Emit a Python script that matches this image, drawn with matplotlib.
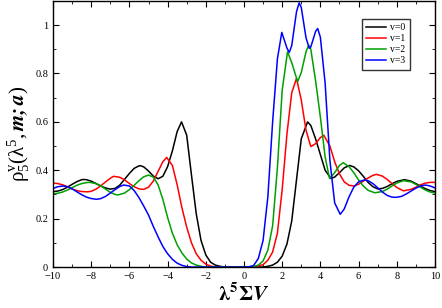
import matplotlib
matplotlib.use("Agg")
import matplotlib.pyplot as plt
from matplotlib.ticker import MultipleLocator

plt.rcParams["font.family"] = ["Liberation Serif", "DejaVu Serif"]
plt.rcParams["mathtext.fontset"] = "stix"

# -------------------------
# data
# -------------------------
x_v0 = [-10, -9.75, -9.5, -9.25, -9.0, -8.75, -8.5, -8.4, -8.25, -8.0, -7.75, -7.5,
        -7.25, -7.0, -6.75, -6.5, -6.25, -6.0, -5.75, -5.5, -5.43, -5.25, -5.0, -4.75,
        -4.5, -4.25, -4.0, -3.75, -3.5, -3.27, -3.0, -2.75, -2.5, -2.25, -2.0, -1.75,
        -1.5, -1.25, -1.0,
        1.0, 1.25, 1.5, 1.75, 2.0, 2.25, 2.5, 2.75, 3.0, 3.33, 3.5, 3.75, 4.0, 4.25,
        4.56, 4.75, 5.0, 5.25, 5.53, 5.75, 6.0, 6.25, 6.5, 6.75, 7.0, 7.25, 7.5, 7.75,
        8.0, 8.4, 8.75, 9.0, 9.25, 9.5, 9.75, 10]
rho_v0 = [0.312, 0.314, 0.320, 0.330, 0.342, 0.353, 0.361, 0.362, 0.361, 0.355, 0.345, 0.335,
          0.327, 0.322, 0.325, 0.339, 0.363, 0.387, 0.408, 0.418, 0.419, 0.414, 0.397, 0.376,
          0.365, 0.375, 0.415, 0.480, 0.560, 0.600, 0.545, 0.380, 0.220, 0.110, 0.050, 0.020,
          0.008, 0.003, 0.0,
          0.0, 0.003, 0.008, 0.020, 0.045, 0.095, 0.190, 0.360, 0.530, 0.600, 0.585, 0.530, 0.465, 0.400,
          0.366, 0.372, 0.390, 0.410, 0.420, 0.414, 0.398, 0.375, 0.350, 0.332, 0.323, 0.325, 0.333, 0.344,
          0.354, 0.361, 0.355, 0.345, 0.334, 0.324, 0.316, 0.312]

x_v1 = [-10, -9.75, -9.5, -9.25, -9.0, -8.75, -8.5, -8.17, -8.0, -7.75, -7.5, -7.25,
        -7.0, -6.83, -6.5, -6.25, -6.0, -5.75, -5.5, -5.25, -5.0, -4.75, -4.5, -4.25,
        -4.05, -3.75, -3.5, -3.25, -3.0, -2.75, -2.5, -2.25, -2.0, -1.75, -1.5,
        0.5, 0.75, 1.0, 1.25, 1.5, 1.75, 2.0, 2.25, 2.5, 2.75, 3.0, 3.25, 3.5, 3.75,
        4.0, 4.18, 4.5, 4.75, 5.0, 5.25, 5.5, 5.75, 6.0, 6.25, 6.5, 6.75, 6.94, 7.25,
        7.5, 7.75, 8.0, 8.35, 8.75, 9.0, 9.25, 9.5, 9.75, 10]
rho_v1 = [0.347, 0.345, 0.340, 0.332, 0.323, 0.316, 0.312, 0.311, 0.313, 0.322, 0.336, 0.352,
          0.367, 0.375, 0.371, 0.360, 0.345, 0.332, 0.323, 0.321, 0.330, 0.355, 0.395, 0.435,
          0.453, 0.420, 0.340, 0.245, 0.165, 0.100, 0.055, 0.028, 0.012, 0.004, 0.0,
          0.0, 0.004, 0.010, 0.028, 0.062, 0.140, 0.320, 0.550, 0.720, 0.780, 0.690, 0.565, 0.498, 0.510,
          0.535, 0.545, 0.500, 0.435, 0.385, 0.352, 0.338, 0.335, 0.342, 0.355, 0.368, 0.379, 0.383, 0.376,
          0.362, 0.345, 0.329, 0.315, 0.321, 0.330, 0.340, 0.347, 0.350, 0.350]

x_v2 = [-10, -9.75, -9.5, -9.25, -9.0, -8.75, -8.5, -8.25, -8.07, -7.75, -7.5, -7.25,
        -7.0, -6.75, -6.6, -6.25, -6.0, -5.75, -5.5, -5.25, -5.0, -4.75, -4.5, -4.25,
        -4.0, -3.75, -3.5, -3.25, -3.0, -2.75, -2.5, -2.25, -2.0,
        0.25, 0.5, 0.75, 1.0, 1.25, 1.5, 1.75, 2.0, 2.28, 2.5, 2.81, 3.0, 3.25, 3.39,
        3.5, 3.75, 4.0, 4.25, 4.48, 4.75, 5.0, 5.2, 5.5, 5.75, 6.0, 6.25, 6.5, 6.85,
        7.25, 7.5, 7.75, 8.0, 8.35, 8.75, 9.0, 9.25, 9.5, 9.75, 10]
rho_v2 = [0.303, 0.305, 0.310, 0.318, 0.328, 0.338, 0.345, 0.349, 0.350, 0.345, 0.336, 0.322,
          0.309, 0.300, 0.298, 0.306, 0.320, 0.338, 0.357, 0.373, 0.380, 0.372, 0.340, 0.280,
          0.205, 0.140, 0.092, 0.058, 0.033, 0.017, 0.008, 0.003, 0.0,
          0.0, 0.002, 0.008, 0.025, 0.070, 0.170, 0.410, 0.730, 0.890, 0.845, 0.766, 0.804, 0.890, 0.917,
          0.900, 0.770, 0.620, 0.455, 0.366, 0.390, 0.420, 0.431, 0.415, 0.390, 0.360, 0.335, 0.317, 0.307,
          0.312, 0.322, 0.335, 0.347, 0.357, 0.352, 0.342, 0.330, 0.318, 0.310, 0.306]

x_v3 = [-10, -9.75, -9.47, -9.25, -9.0, -8.75, -8.5, -8.25, -8.0, -7.71, -7.5, -7.25,
        -7.0, -6.75, -6.5, -6.3, -6.0, -5.75, -5.5, -5.25, -5.0, -4.75, -4.5, -4.25,
        -4.0, -3.75, -3.5, -3.25, -3.0, -2.75,
        0.0, 0.25, 0.5, 0.75, 1.0, 1.25, 1.5, 1.75, 1.98, 2.25, 2.37, 2.5, 2.75, 2.89,
        3.0, 3.25, 3.42, 3.5, 3.75, 3.86, 4.0, 4.25, 4.5, 4.75, 5.04, 5.25, 5.5, 5.75,
        6.0, 6.3, 6.5, 6.75, 7.0, 7.25, 7.5, 7.75, 7.95, 8.25, 8.5, 8.75, 9.0, 9.25,
        9.5, 9.75, 10]
rho_v3 = [0.325, 0.332, 0.335, 0.332, 0.323, 0.311, 0.299, 0.289, 0.283, 0.280, 0.283, 0.292,
          0.306, 0.320, 0.333, 0.339, 0.335, 0.316, 0.287, 0.252, 0.215, 0.168, 0.125, 0.085,
          0.055, 0.032, 0.016, 0.007, 0.002, 0.0,
          0.0, 0.001, 0.006, 0.035, 0.110, 0.290, 0.600, 0.860, 0.970, 0.905, 0.887, 0.915, 1.055, 1.092,
          1.073, 0.947, 0.904, 0.910, 0.974, 0.986, 0.950, 0.760, 0.440, 0.265, 0.218, 0.240, 0.290, 0.330,
          0.352, 0.360, 0.357, 0.345, 0.328, 0.310, 0.296, 0.289, 0.288, 0.292, 0.302, 0.314, 0.326, 0.335,
          0.339, 0.335, 0.327]

labels = ["v=0", "v=1", "v=2", "v=3"]
colors = ["black", "#ff0000", "#00a000", "#0000ff"]

fig = plt.figure(figsize=(4.42, 3.08), dpi=100)
ax = fig.add_axes([0.12, 0.133, 0.864, 0.864])

for xs, ys, lab, c in zip([x_v0, x_v1, x_v2, x_v3], [rho_v0, rho_v1, rho_v2, rho_v3], labels, colors):
    ax.plot(xs, ys, color=c, lw=1.1, label=lab)

ax.set_xlim(-10, 10)
ax.set_ylim(0, 1.1)
ax.xaxis.set_major_locator(MultipleLocator(2))
ax.xaxis.set_minor_locator(MultipleLocator(1))
ax.yaxis.set_major_locator(MultipleLocator(0.2))
ax.yaxis.set_minor_locator(MultipleLocator(0.1))
ax.yaxis.set_major_formatter(plt.FuncFormatter(lambda v, p: f"{v:g}"))
ax.tick_params(which="both", direction="in", top=True, right=True, labelsize=7.5,
               labeltop=False, labelright=False)
ax.tick_params(which="major", length=4)
ax.tick_params(which="minor", length=2)
for s in ax.spines.values():
    s.set_linewidth(1.0)

ax.set_xlabel(r"$\mathbf{\lambda^{5}\Sigma}\mathbfit{V}$", fontsize=15, labelpad=2)
ax.set_ylabel(r"$\mathregular{\rho^{v}_{5}(\lambda^{5},}\mathbfit{m;a}\mathregular{)}$",
              fontsize=15, labelpad=2)

leg = ax.legend(loc="upper right", bbox_to_anchor=(0.935, 0.932), borderaxespad=0,
                fontsize=7, frameon=True, fancybox=False, edgecolor="black",
                handlelength=2.0, borderpad=0.45, labelspacing=0.2, handletextpad=0.5)
leg.get_frame().set_linewidth(1.0)

fig.savefig("out.png", dpi=100)
